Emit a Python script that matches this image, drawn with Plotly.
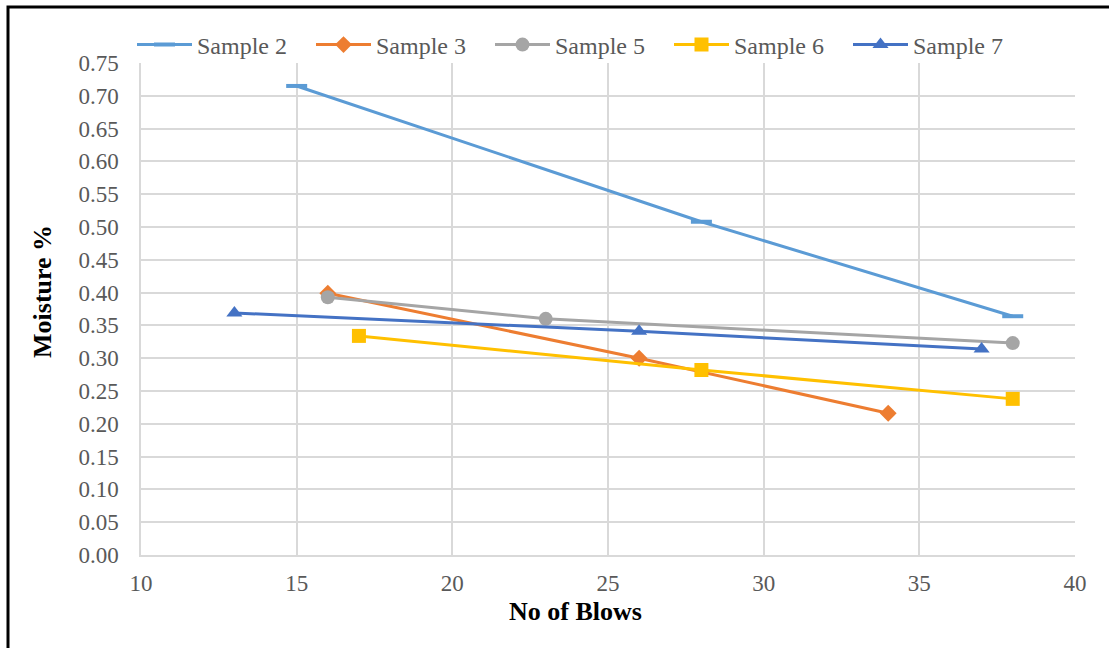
import plotly.graph_objects as go

# Liquid-limit test results: moisture content against number of blows
series_names = ["Sample 2", "Sample 3", "Sample 5", "Sample 6", "Sample 7"]

s2_blows = [15, 28, 38]
s2_moist = [0.715, 0.508, 0.364]

s3_blows = [16, 26, 34]
s3_moist = [0.399, 0.300, 0.216]

s5_blows = [16, 23, 38]
s5_moist = [0.393, 0.360, 0.323]

s6_blows = [17, 28, 38]
s6_moist = [0.334, 0.282, 0.238]

s7_blows = [13, 26, 37]
s7_moist = [0.369, 0.341, 0.314]

y_ticks = [i * 0.05 for i in range(16)]
x_ticks = [10, 15, 20, 25, 30, 35, 40]

colors = ["#5B9BD5", "#ED7D31", "#A5A5A5", "#FFC000", "#4472C4"]
SERIF = "Liberation Serif, Times New Roman, serif"

fig = go.Figure()

fig.add_trace(go.Scatter(
    x=s2_blows, y=s2_moist, name=series_names[0], mode="lines+markers",
    line=dict(color=colors[0], width=3),
    marker=dict(symbol="line-ew", size=15, line=dict(color=colors[0], width=4)),
))
fig.add_trace(go.Scatter(
    x=s3_blows, y=s3_moist, name=series_names[1], mode="lines+markers",
    line=dict(color=colors[1], width=3),
    marker=dict(symbol="diamond", size=13, color=colors[1]),
))
fig.add_trace(go.Scatter(
    x=s5_blows, y=s5_moist, name=series_names[2], mode="lines+markers",
    line=dict(color=colors[2], width=3),
    marker=dict(symbol="circle", size=14, color=colors[2]),
))
fig.add_trace(go.Scatter(
    x=s6_blows, y=s6_moist, name=series_names[3], mode="lines+markers",
    line=dict(color=colors[3], width=3),
    marker=dict(symbol="square", size=14, color=colors[3]),
))
fig.add_trace(go.Scatter(
    x=s7_blows, y=s7_moist, name=series_names[4], mode="lines+markers",
    line=dict(color=colors[4], width=3),
    marker=dict(symbol="triangle-up", size=14, color=colors[4]),
))

tick_font = dict(family=SERIF, size=23, color="#595959")
grid = "#D9D9D9"

fig.update_xaxes(
    range=[10, 40], tickvals=x_ticks, ticktext=[str(v) for v in x_ticks],
    showgrid=True, gridcolor=grid, gridwidth=1.5,
    showline=True, linecolor=grid, linewidth=1.5, mirror=False,
    zeroline=False, ticks="", tickfont=tick_font, ticklabelstandoff=7,
)
fig.update_yaxes(
    range=[0, 0.75], tickvals=y_ticks, ticktext=[f"{v:.2f}" for v in y_ticks],
    showgrid=True, gridcolor=grid, gridwidth=1.5,
    showline=True, linecolor=grid, linewidth=1.5,
    zeroline=False, ticks="", tickfont=tick_font, ticklabelstandoff=16,
)

fig.update_layout(
    width=1109, height=648,
    margin=dict(l=141, r=34, t=63, b=93, autoexpand=False),
    paper_bgcolor="white", plot_bgcolor="white",
    font=dict(family=SERIF, size=23, color="#595959"),
    showlegend=True,
    legend=dict(
        orientation="h", xref="container", yref="container",
        x=132 / 1109, y=1 - 45 / 648, xanchor="left", yanchor="middle",
        font=dict(family=SERIF, size=24, color="#595959"),
        entrywidth=109, entrywidthmode="pixels",
        itemwidth=55, bgcolor="rgba(0,0,0,0)", tracegroupgap=0,
    ),
    annotations=[
        dict(text="<b>No of Blows</b>", x=(575 - 141) / 934, y=-0.115,
             xref="paper", yref="paper", showarrow=False,
             xanchor="center", yanchor="middle",
             font=dict(family=SERIF, size=26, color="black")),
        dict(text="<b>Moisture %</b>", x=(42 - 141) / 934, y=(555 - 292) / 492,
             xref="paper", yref="paper", showarrow=False, textangle=-90,
             xanchor="center", yanchor="middle",
             font=dict(family=SERIF, size=26, color="black")),
    ],
    shapes=[
        dict(type="rect", xref="paper", yref="paper",
             x0=(8 - 141) / 934, x1=(1130 - 141) / 934,
             y0=(555 - 680) / 492, y1=(555 - 7) / 492,
             line=dict(color="black", width=3), fillcolor="rgba(0,0,0,0)",
             layer="below"),
    ],
)

fig.write_html("out.html")
